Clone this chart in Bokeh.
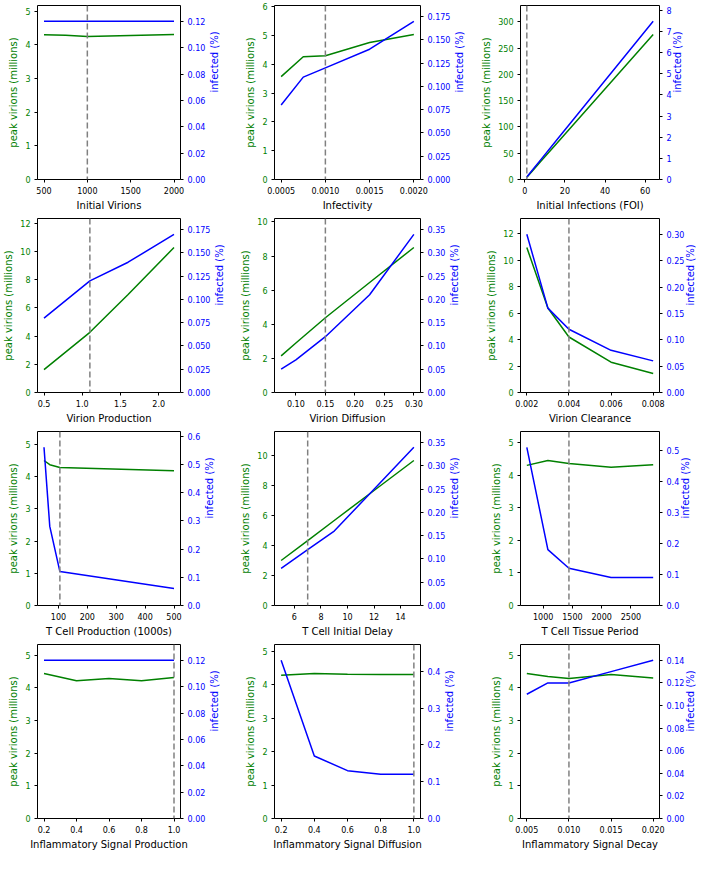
import math
from bokeh.plotting import figure
from bokeh.layouts import gridplot
from bokeh.models import Range1d, LinearAxis, Span, FixedTicker, PrintfTickFormatter
from bokeh.embed import file_html
from bokeh.resources import INLINE

# ---------------- data ----------------
# 1 Initial Virions
iv_x = [500, 750, 1000, 1500, 2000]
iv_peak = [4.30, 4.29, 4.25, 4.28, 4.31]
iv_inf = [0.12, 0.12, 0.12, 0.12, 0.12]
iv_default = 1000
iv_xticks = [500, 1000, 1500, 2000]
iv_lticks = [0, 1, 2, 3, 4, 5]
iv_rticks = [0, 0.02, 0.04, 0.06, 0.08, 0.10, 0.12]

# 2 Infectivity
inf_x = [0.0005, 0.00075, 0.001, 0.0015, 0.002]
inf_peak = [3.57, 4.26, 4.29, 4.75, 5.03]
inf_inf = [0.08, 0.11, 0.12, 0.14, 0.17]
inf_default = 0.001
inf_xticks = [0.0005, 0.0010, 0.0015, 0.0020]
inf_lticks = [0, 1, 2, 3, 4, 5, 6]
inf_rticks = [0, 0.025, 0.05, 0.075, 0.1, 0.125, 0.15, 0.175]

# 3 Initial Infections (FOI)
foi_x = [1, 2, 4, 8, 16, 32, 64]
foi_peak = [4.3, 8.6, 17.3, 34.6, 69.0, 138.0, 276.0]
foi_inf = [0.12, 0.24, 0.47, 0.94, 1.88, 3.75, 7.48]
foi_default = 1
foi_xticks = [0, 20, 40, 60]
foi_lticks = [0, 50, 100, 150, 200, 250, 300]
foi_rticks = [0, 1, 2, 3, 4, 5, 6, 7, 8]

# 4 Virion Production
vp_x = [0.5, 1.1, 1.6, 2.2]
vp_peak = [1.62, 4.27, 6.95, 10.29]
vp_inf = [0.08, 0.12, 0.14, 0.17]
vp_default = 1.1
vp_xticks = [0.5, 1.0, 1.5, 2.0]
vp_lticks = [0, 2, 4, 6, 8, 10, 12]
vp_rticks = [0, 0.025, 0.05, 0.075, 0.1, 0.125, 0.15, 0.175]

# 5 Virion Diffusion
vd_x = [0.075, 0.1, 0.15, 0.225, 0.3]
vd_peak = [2.15, 2.9, 4.38, 6.45, 8.5]
vd_inf = [0.05, 0.07, 0.12, 0.21, 0.34]
vd_default = 0.15
vd_xticks = [0.10, 0.15, 0.20, 0.25, 0.30]
vd_lticks = [0, 2, 4, 6, 8, 10]
vd_rticks = [0, 0.05, 0.10, 0.15, 0.20, 0.25, 0.30, 0.35]

# 6 Virion Clearance
vc_x = [0.002, 0.003, 0.004, 0.006, 0.008]
vc_peak = [10.97, 6.39, 4.2, 2.29, 1.43]
vc_inf = [0.30, 0.16, 0.12, 0.08, 0.06]
vc_default = 0.004
vc_xticks = [0.002, 0.004, 0.006, 0.008]
vc_lticks = [0, 2, 4, 6, 8, 10, 12]
vc_rticks = [0, 0.05, 0.10, 0.15, 0.20, 0.25, 0.30]

# 7 T Cell Production (1000s)
tp_x = [50, 70, 105, 500]
tp_peak = [4.50, 4.37, 4.28, 4.18]
tp_inf = [0.56, 0.28, 0.12, 0.06]
tp_default = 105
tp_xticks = [100, 200, 300, 400, 500]
tp_lticks = [0, 1, 2, 3, 4, 5]
tp_rticks = [0, 0.1, 0.2, 0.3, 0.4, 0.5, 0.6]

# 8 T Cell Initial Delay
td_x = [5, 7, 9, 12, 15]
td_peak = [3.0, 4.33, 5.67, 7.67, 9.67]
td_inf = [0.08, 0.12, 0.16, 0.25, 0.34]
td_default = 7
td_xticks = [6, 8, 10, 12, 14]
td_lticks = [0, 2, 4, 6, 8, 10]
td_rticks = [0, 0.05, 0.10, 0.15, 0.20, 0.25, 0.30, 0.35]

# 9 T Cell Tissue Period
tt_x = [720, 1080, 1440, 2160, 2880]
tt_peak = [4.31, 4.46, 4.37, 4.25, 4.33]
tt_inf = [0.51, 0.18, 0.12, 0.09, 0.09]
tt_default = 1440
tt_xticks = [1000, 1500, 2000, 2500]
tt_lticks = [0, 1, 2, 3, 4, 5]
tt_rticks = [0, 0.1, 0.2, 0.3, 0.4, 0.5]

# 10 Inflammatory Signal Production
ip_x = [0.2, 0.4, 0.6, 0.8, 1.0]
ip_peak = [4.44, 4.22, 4.29, 4.22, 4.32]
ip_inf = [0.12, 0.12, 0.12, 0.12, 0.12]
ip_default = 1.0
ip_xticks = [0.2, 0.4, 0.6, 0.8, 1.0]
ip_lticks = [0, 1, 2, 3, 4, 5]
ip_rticks = [0, 0.02, 0.04, 0.06, 0.08, 0.10, 0.12]

# 11 Inflammatory Signal Diffusion
idf_x = [0.2, 0.4, 0.6, 0.8, 1.0]
idf_peak = [4.28, 4.33, 4.31, 4.30, 4.30]
idf_inf = [0.43, 0.17, 0.13, 0.12, 0.12]
idf_default = 1.0
idf_xticks = [0.2, 0.4, 0.6, 0.8, 1.0]
idf_lticks = [0, 1, 2, 3, 4, 5]
idf_rticks = [0, 0.1, 0.2, 0.3, 0.4]

# 12 Inflammatory Signal Decay
idc_x = [0.005, 0.0075, 0.01, 0.015, 0.02]
idc_peak = [4.44, 4.35, 4.29, 4.41, 4.30]
idc_inf = [0.11, 0.12, 0.12, 0.13, 0.14]
idc_default = 0.01
idc_xticks = [0.005, 0.010, 0.015, 0.020]
idc_lticks = [0, 1, 2, 3, 4, 5]
idc_rticks = [0, 0.02, 0.04, 0.06, 0.08, 0.10, 0.12, 0.14]

x_labels = ["Initial Virions", "Infectivity", "Initial Infections (FOI)",
            "Virion Production", "Virion Diffusion", "Virion Clearance",
            "T Cell Production (1000s)", "T Cell Initial Delay", "T Cell Tissue Period",
            "Inflammatory Signal Production", "Inflammatory Signal Diffusion",
            "Inflammatory Signal Decay"]

panels = [
    (iv_x, iv_peak, iv_inf, iv_default, iv_xticks, iv_lticks, iv_rticks, "%d", "%.2f"),
    (inf_x, inf_peak, inf_inf, inf_default, inf_xticks, inf_lticks, inf_rticks, "%.4f", "%.3f"),
    (foi_x, foi_peak, foi_inf, foi_default, foi_xticks, foi_lticks, foi_rticks, "%d", "%d"),
    (vp_x, vp_peak, vp_inf, vp_default, vp_xticks, vp_lticks, vp_rticks, "%.1f", "%.3f"),
    (vd_x, vd_peak, vd_inf, vd_default, vd_xticks, vd_lticks, vd_rticks, "%.2f", "%.2f"),
    (vc_x, vc_peak, vc_inf, vc_default, vc_xticks, vc_lticks, vc_rticks, "%.3f", "%.2f"),
    (tp_x, tp_peak, tp_inf, tp_default, tp_xticks, tp_lticks, tp_rticks, "%d", "%.1f"),
    (td_x, td_peak, td_inf, td_default, td_xticks, td_lticks, td_rticks, "%d", "%.2f"),
    (tt_x, tt_peak, tt_inf, tt_default, tt_xticks, tt_lticks, tt_rticks, "%d", "%.1f"),
    (ip_x, ip_peak, ip_inf, ip_default, ip_xticks, ip_lticks, ip_rticks, "%.1f", "%.2f"),
    (idf_x, idf_peak, idf_inf, idf_default, idf_xticks, idf_lticks, idf_rticks, "%.1f", "%.1f"),
    (idc_x, idc_peak, idc_inf, idc_default, idc_xticks, idc_lticks, idc_rticks, "%.3f", "%.2f"),
]

# ---------------- layout / style ----------------
FONT = "DejaVu Sans"
GREEN = "#008000"
BLUE = "#0000ff"
col_left = [32, 35, 38]
col_right = [57, 58, 40]
right_label_standoff = [6, 6, 3]
FRAME_W = 148
FRAME_H = 176
TOP = 5
BOTTOM = 32


def style_axis(ax, color_label, color_ticks, label_standoff=3):
    ax.axis_label_text_font = FONT
    ax.axis_label_text_font_size = "10px"
    ax.axis_label_text_font_style = "normal"
    ax.axis_label_text_color = color_label
    ax.major_label_text_font = FONT
    ax.major_label_text_font_size = "8px"
    ax.major_label_text_color = color_ticks
    ax.major_tick_out = 3
    ax.major_tick_in = 0
    ax.major_tick_line_color = "black"
    ax.minor_tick_line_color = None
    ax.axis_line_color = None
    ax.major_label_standoff = 4
    ax.axis_label_standoff = label_standoff


plots = []
for i, (xs, peak, inf, dflt, xt, lt, rt, xfmt, rfmt) in enumerate(panels):
    c = i % 3
    pad = 0.05 * (max(xs) - min(xs))
    p = figure(width=col_left[c] + FRAME_W + col_right[c], height=TOP + FRAME_H + BOTTOM,
               x_range=Range1d(min(xs) - pad, max(xs) + pad),
               y_range=Range1d(0, 1.2 * max(peak)),
               output_backend="svg", toolbar_location=None,
               min_border_left=col_left[c], min_border_right=col_right[c],
               min_border_top=TOP, min_border_bottom=BOTTOM)
    p.extra_y_ranges = {"right": Range1d(0, 1.1 * max(inf))}
    p.xgrid.grid_line_color = None
    p.ygrid.grid_line_color = None
    p.outline_line_color = "black"
    p.outline_line_width = 1
    p.outline_line_alpha = 1.0
    p.background_fill_color = "white"
    p.border_fill_color = "white"

    p.line(xs, peak, line_color=GREEN, line_width=1.5)
    p.line(xs, inf, line_color=BLUE, line_width=1.5, y_range_name="right")
    p.add_layout(Span(location=dflt, dimension="height", line_color="gray",
                      line_dash="6 3", line_width=1.5))

    p.xaxis.axis_label = x_labels[i]
    p.xaxis.ticker = FixedTicker(ticks=xt)
    p.xaxis.formatter = PrintfTickFormatter(format=xfmt)
    style_axis(p.xaxis[0], "black", "black")

    p.yaxis.axis_label = "peak virions (millions)"
    p.yaxis.ticker = FixedTicker(ticks=lt)
    p.yaxis.formatter = PrintfTickFormatter(format="%d")
    style_axis(p.yaxis[0], GREEN, GREEN)

    rax = LinearAxis(y_range_name="right", axis_label="infected (%)",
                     ticker=FixedTicker(ticks=rt),
                     formatter=PrintfTickFormatter(format=rfmt))
    style_axis(rax, BLUE, BLUE, right_label_standoff[c])
    rax.axis_label_orientation = math.pi / 2
    p.add_layout(rax, "right")
    plots.append(p)

grid = gridplot([plots[0:3], plots[3:6], plots[6:9], plots[9:12]], toolbar_location=None)

open("out.html", "w").write(file_html(grid, INLINE))
